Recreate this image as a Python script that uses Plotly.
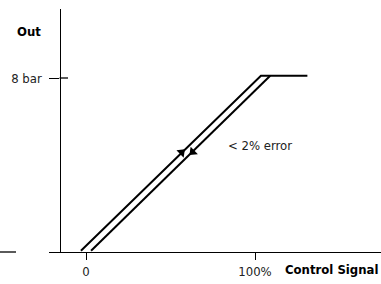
import plotly.graph_objects as go

# data
up_x = [-3, 103.5, 131]
up_y = [0.06, 8.1, 8.1]
down_x = [3, 109]
down_y = [0.06, 8.1]
x_tickvals = [0, 100]
x_ticktext = ["0", "100%"]
y_tickvals = [8]
y_ticktext = ["8 bar"]
arrow_x = [56.6, 63.1]
arrow_y = [4.58, 4.6]
arrow_symbols = ["triangle-up", "triangle-down"]

FONT = "Liberation Sans Narrow, DejaVu Sans Condensed, Roboto, sans-serif"
W, H = 381, 284
L, R, T, B = 49, 0, 9, 32
pw, ph = W - L - R, H - T - B

px_per_x = 1.69
px_per_y = 21.75
x0px = 86 - L
xr = [-x0px / px_per_x, (pw - x0px) / px_per_x]
yr = [0, ph / px_per_y]

fig = go.Figure()
fig.add_trace(go.Scatter(x=up_x, y=up_y, mode="lines",
                         line=dict(color="black", width=2), showlegend=False, hoverinfo="skip"))
fig.add_trace(go.Scatter(x=down_x, y=down_y, mode="lines",
                         line=dict(color="black", width=2), showlegend=False, hoverinfo="skip"))
fig.add_trace(go.Scatter(x=arrow_x, y=arrow_y, mode="markers",
                         marker=dict(symbol=arrow_symbols, size=9, color="black", angle=46),
                         showlegend=False, hoverinfo="skip"))

fig.update_layout(
    width=W, height=H,
    margin=dict(l=L, r=R, t=T, b=B),
    paper_bgcolor="white", plot_bgcolor="white",
    font=dict(family=FONT, size=13, color="#222"),
    xaxis=dict(range=xr, showgrid=False, zeroline=False, showline=True,
               linecolor="black", linewidth=1.3, ticks="outside", ticklen=7,
               tickcolor="black", tickwidth=1.3,
               tickvals=x_tickvals, ticktext=x_ticktext, fixedrange=True),
    yaxis=dict(range=yr, showgrid=False, zeroline=False, showline=True,
               linecolor="black", linewidth=1.3, ticks="outside", ticklen=10,
               tickcolor="black", tickwidth=1.3,
               anchor="free", position=(59.5 - L) / pw,
               tickvals=y_tickvals, ticktext=y_ticktext, fixedrange=True,
               ticklabelstandoff=5),
    showlegend=False,
)

# inside part of the 8 bar tick
fig.add_shape(type="line", xref="paper", yref="y",
              x0=(59.5 - L) / pw, x1=(68 - L) / pw, y0=y_tickvals[0], y1=y_tickvals[0],
              line=dict(color="black", width=1.3))
# short line at left
fig.add_shape(type="line", xref="paper", yref="paper",
              x0=-L / pw, x1=(16 - L) / pw, y0=0, y1=0,
              line=dict(color="black", width=1.3))

fig.add_annotation(text="<b>Out</b>", xref="paper", yref="paper",
                   x=(29 - L) / pw, y=(H - B - 31) / ph, showarrow=False,
                   xanchor="center", yanchor="middle", font=dict(color="black", size=13))
fig.add_annotation(text="<b>Control Signal</b>", xref="paper", yref="paper",
                   x=(283 - L) / pw, y=(H - B - 269) / ph, showarrow=False,
                   xanchor="left", yanchor="middle", font=dict(color="black", size=13))
fig.add_annotation(text="< 2% error", xref="x", yref="y",
                   x=(226 - 86) / px_per_x, y=(252 - 145) / px_per_y, showarrow=False,
                   xanchor="left", yanchor="middle", font=dict(size=13))

fig.write_html("out.html", config={"displayModeBar": False},
               post_script="document.body.style.margin='0';")
